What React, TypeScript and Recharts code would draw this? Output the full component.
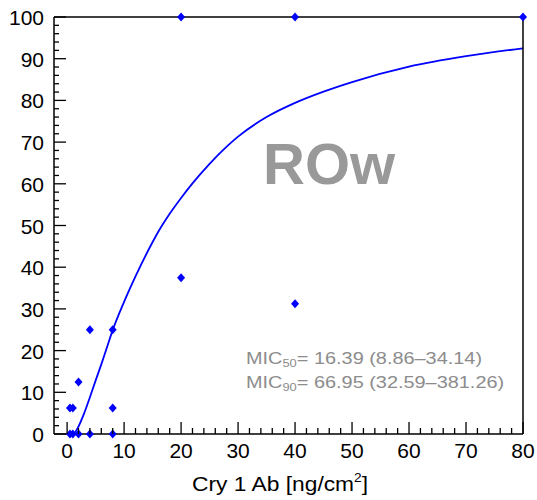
import { ComposedChart, Line, Scatter, XAxis, YAxis } from "recharts"

// observed mortality (%) per dose
const obsDose = [0.5, 0.5, 1, 1, 2, 2, 4, 4, 8, 8, 8, 20, 20, 40, 40, 80]
const obsMort = [0, 6.25, 0, 6.25, 0, 12.5, 0, 25, 0, 6.25, 25, 37.5, 100, 31.25, 100, 100]

// fitted curve
const fitDose = [1, 1.5, 2, 3, 4, 5, 6, 7, 8, 10, 12, 14, 16, 18, 20, 22, 25, 28, 30, 35, 40, 45, 50, 60, 70, 80]
const fitMort = [0, 0.6, 1.8, 5, 8.8, 12.8, 16.7, 20.8, 24.9, 31.7, 37.8, 43.4, 48.5, 52.8, 56.6, 60.1, 64.8, 68.9, 71.3, 76.0, 79.4, 82.1, 84.4, 88.1, 90.6, 92.5]

const xTicks = [0, 2, 4, 6, 8, 10, 12, 14, 16, 18, 20, 22, 24, 26, 28, 30, 32, 34, 36, 38, 40, 42, 44, 46, 48, 50, 52, 54, 56, 58, 60, 62, 64, 66, 68, 70, 72, 74, 76, 78, 80]
const yTicks = [0, 2, 4, 6, 8, 10, 12, 14, 16, 18, 20, 22, 24, 26, 28, 30, 32, 34, 36, 38, 40, 42, 44, 46, 48, 50, 52, 54, 56, 58, 60, 62, 64, 66, 68, 70, 72, 74, 76, 78, 80, 82, 84, 86, 88, 90, 92, 94, 96, 98, 100]

const observed = obsDose.map((x, i) => ({ x, y: obsMort[i] }))
const fitted = fitDose.map((x, i) => ({ x, y: fitMort[i] }))

const FONT = "'Liberation Sans', Arial, Helvetica, sans-serif"
const BLUE = "#0000ff"

const isMajor = (v: number) => v % 10 === 0

const BottomTick = ({ x, y, payload }: any) => (
  <g>
    <line x1={x} x2={x} y1={y} y2={y - (isMajor(payload.value) ? 12 : 6)} stroke="#000" strokeWidth={1.3} />
    {isMajor(payload.value) && (
      <text x={x} y={y + 24} textAnchor="middle" fontSize={21} fontFamily={FONT} fill="#000">
        {payload.value}
      </text>
    )}
  </g>
)

const TopTick = ({ x, y, payload }: any) => (
  <line x1={x} x2={x} y1={y} y2={y + (isMajor(payload.value) ? 12 : 6)} stroke="#000" strokeWidth={1.3} />
)

const LeftTick = ({ x, y, payload }: any) => (
  <g>
    <line x1={x} x2={x + (isMajor(payload.value) ? 12 : 5)} y1={y} y2={y} stroke="#000" strokeWidth={1.3} />
    {isMajor(payload.value) && (
      <text x={x - 10} y={y + 8} textAnchor="end" fontSize={21} fontFamily={FONT} fill="#000">
        {payload.value}
      </text>
    )}
  </g>
)

const RightTick = ({ x, y, payload }: any) => (
  <line x1={x} x2={x + (isMajor(payload.value) ? 11 : 6)} y1={y} y2={y} stroke="#000" strokeWidth={1.3} />
)

const Diamond = ({ cx, cy }: any) => (
  <polygon points={`${cx},${cy - 4.5} ${cx + 4},${cy} ${cx},${cy + 4.5} ${cx - 4},${cy}`} fill={BLUE} />
)

export default function App() {
  return (
    <div style={{ position: "absolute", left: 0, top: 0, width: 537, height: 500, background: "#fff" }}>
      <ComposedChart width={537} height={500} margin={{ top: 0, right: 0, bottom: 0, left: 0 }}>
        <XAxis
          xAxisId={0}
          dataKey="x"
          type="number"
          domain={[-2.3, 80]}
          ticks={xTicks}
          interval={0}
          height={66}
          tickSize={0}
          tickMargin={0}
          tickLine={false}
          tick={<BottomTick />}
          axisLine={{ stroke: "#000", strokeWidth: 1.5 }}
        />
        <XAxis
          xAxisId="top"
          orientation="top"
          dataKey="x"
          type="number"
          domain={[-2.3, 80]}
          ticks={xTicks}
          interval={0}
          height={17}
          tickSize={0}
          tickMargin={0}
          tickLine={false}
          tick={<TopTick />}
          axisLine={{ stroke: "#000", strokeWidth: 1.5 }}
        />
        <YAxis
          yAxisId={0}
          type="number"
          domain={[0, 100]}
          ticks={yTicks}
          interval={0}
          width={54}
          tickSize={0}
          tickMargin={0}
          tickLine={false}
          tick={<LeftTick />}
          axisLine={{ stroke: "#000", strokeWidth: 1.5 }}
        />
        <YAxis
          yAxisId="right"
          orientation="right"
          type="number"
          domain={[0, 100]}
          ticks={yTicks}
          interval={0}
          width={14}
          tickSize={0}
          tickMargin={0}
          tickLine={false}
          tick={<RightTick />}
          axisLine={{ stroke: "#000", strokeWidth: 1.5 }}
        />
        <Line
          data={fitted}
          dataKey="y"
          type="monotone"
          stroke={BLUE}
          strokeWidth={1.8}
          dot={false}
          activeDot={false}
          isAnimationActive={false}
        />
        <Scatter data={observed} dataKey="y" fill={BLUE} shape={<Diamond />} isAnimationActive={false} />
      </ComposedChart>
      <svg width={537} height={500} style={{ position: "absolute", left: 0, top: 0, pointerEvents: "none" }}>
        <text x={263} y={184} fontSize={58} fontWeight="bold" fontFamily={FONT} fill="#999999">
          ROw
        </text>
        <g transform="translate(246,364) scale(1.17,1)">
          <text x={0} y={0} fontSize={17} fontFamily={FONT} fill="#8c8c8c">
            MIC<tspan fontSize={11} dy={3}>50</tspan>
            <tspan dy={-3}>= 16.39 (8.86–34.14)</tspan>
          </text>
        </g>
        <g transform="translate(246,388) scale(1.17,1)">
          <text x={0} y={0} fontSize={17} fontFamily={FONT} fill="#8c8c8c">
            MIC<tspan fontSize={11} dy={3}>90</tspan>
            <tspan dy={-3}>= 66.95 (32.59–381.26)</tspan>
          </text>
        </g>
        <g transform="translate(280,491) scale(1.14,1)">
          <text x={0} y={0} textAnchor="middle" fontSize={20} fontFamily={FONT} fill="#000">
            Cry 1 Ab [ng/cm<tspan fontSize={12} dy={-9}>2</tspan>
            <tspan dy={9}>]</tspan>
          </text>
        </g>
      </svg>
    </div>
  )
}
